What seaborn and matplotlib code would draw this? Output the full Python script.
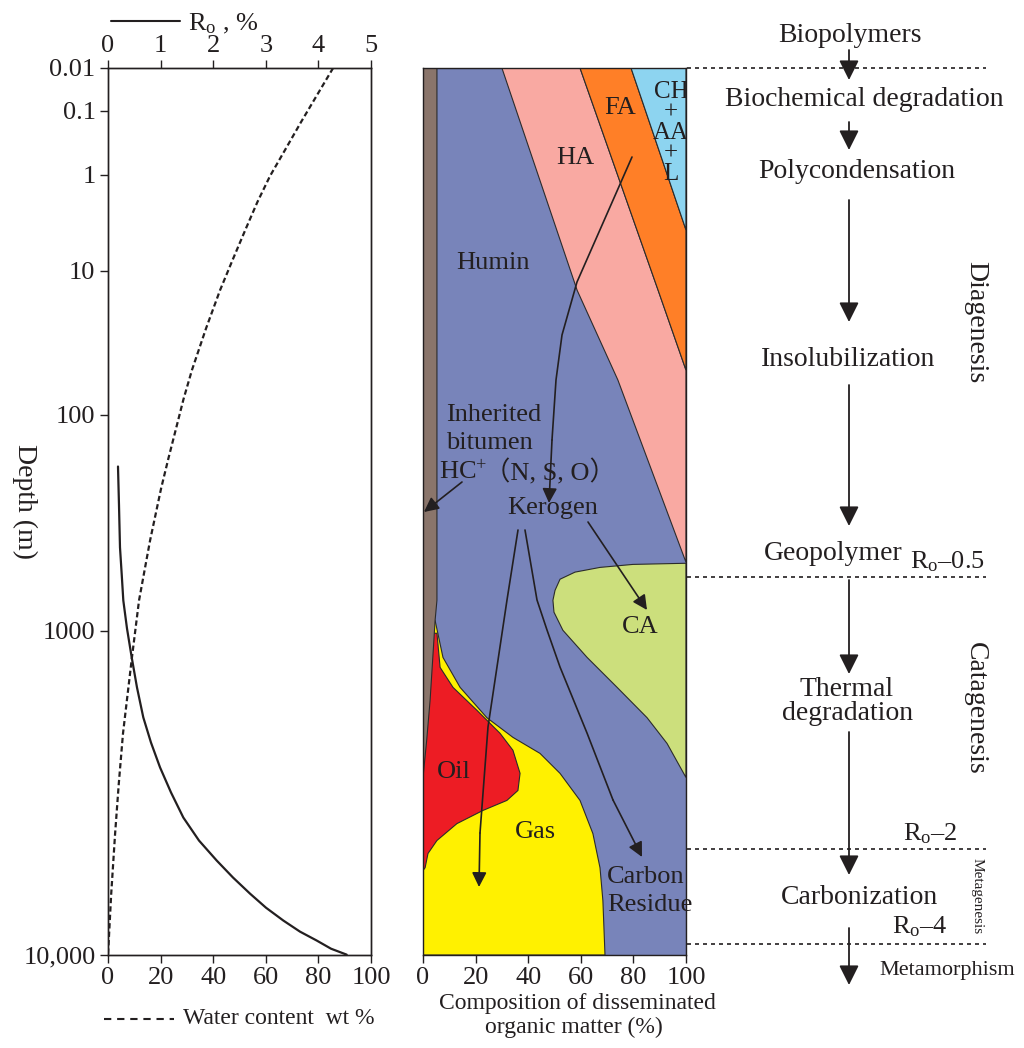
import numpy as np
import pandas as pd
import matplotlib
matplotlib.use("Agg")
import matplotlib.pyplot as plt
import seaborn as sns
from matplotlib.lines import Line2D
from matplotlib.patches import FancyArrowPatch
from matplotlib.ticker import NullLocator

# ---------------- data ----------------
depth_ticks = [0.01, 0.1, 1, 10, 100, 1000, 10000]
depth_tick_labels = ["0.01", "0.1", "1", "10", "100", "1000", "10,000"]
wt_ticks = [0, 20, 40, 60, 80, 100]
ro_ticks = [0, 1, 2, 3, 4, 5]
comp_ticks = [0, 20, 40, 60, 80, 100]

water_depth = [0.01, 0.0476, 0.162, 0.444, 1.04, 2.13, 4.03, 7.92, 14.5, 28.1, 53.9, 81.2,
               119, 172, 244, 426, 573, 761, 1257, 1715, 2305, 3325, 4690, 6950, 10000]
water_wt = [85.6, 79.5, 73.4, 67.5, 61.6, 56.8, 52.5, 47.5, 42.6, 37.3, 31.9, 28.7,
            25.9, 23.0, 20.2, 16.0, 13.9, 11.8, 9.1, 7.4, 5.7, 4.1, 2.7, 1.2, 0.0]

ro_depth = [190, 294, 457, 602, 761, 979, 1257, 1608, 2037, 2466, 2960, 3540, 4208, 4911,
            5598, 6240, 6906, 7535, 8147, 8710, 9183, 9638, 9980]
ro_value = [0.190, 0.209, 0.228, 0.262, 0.291, 0.361, 0.451, 0.551, 0.671, 0.817, 0.989,
            1.198, 1.432, 1.730, 2.067, 2.376, 2.700, 3.004, 3.333, 3.650, 3.967, 4.240, 4.538]

# composition regions: outlines as (percent, depth m)
bitumen_pct = [0, 5.3, 5.3, 4.6, 3.9, 2.7, 1.4, 0]
bitumen_depth = [0.01, 0.01, 760, 912, 1183, 1782, 2427, 3184]
gas_pct = [0, 4.6, 7.6, 14.1, 24.3, 34.2, 44.5, 52.1, 59.7, 64.6, 67.3, 68.4, 69.2, 0]
gas_depth = [912, 912, 1256, 1607, 2042, 2372, 2673, 3090, 3741, 4688, 5861, 7211, 10000, 10000]
oil_pct = [0, 5.3, 6.5, 11.4, 20.5, 29.3, 34.2, 36.9, 36.1, 31.9, 22.8, 12.9, 5.3, 1.9, 0.8, 0]
oil_depth = [1021, 1021, 1365, 1607, 1928, 2301, 2612, 3090, 3490, 3741, 4009, 4385, 4909, 5346, 5861, 5970]
ca_pct = [100, 79.8, 67.3, 57.8, 52.1, 50.2, 49.4, 49.8, 53.2, 62.4, 73.8, 85.2, 92.8, 100]
ca_depth = [535, 541, 557, 583, 624, 693, 760, 847, 995, 1256, 1607, 2042, 2483, 3184]
ha_pct = [30.0, 58.6, 74.1, 100, 100, 89.4, 59.7]
ha_depth = [0.01, 14.5, 62.1, 530, 53.8, 14.5, 0.01]
fa_pct = [59.7, 89.4, 100, 100, 79.1]
fa_depth = [0.01, 14.5, 53.8, 4.20, 0.01]
ch_pct = [79.1, 100, 100]
ch_depth = [0.01, 4.20, 0.01]
humin_pct = [0, 100, 100, 0]
humin_depth = [0.01, 0.01, 10000, 10000]

# ---------------- style ----------------
sns.set_theme(style="ticks")
ink = "#231f20"
plt.rcParams["font.family"] = ["Liberation Serif", "DejaVu Serif", "Noto Sans CJK SC"]
plt.rcParams["mathtext.fontset"] = "custom"
plt.rcParams["mathtext.rm"] = "Liberation Serif"
plt.rcParams["mathtext.it"] = "Liberation Serif:italic"
plt.rcParams["mathtext.bf"] = "Liberation Serif:bold"
plt.rcParams["axes.edgecolor"] = ink
plt.rcParams["axes.linewidth"] = 1.0
plt.rcParams["text.color"] = ink

R_BASE, A_SC = 1.5, 85.3


def fwd(d):
    d = np.clip(np.asarray(d, dtype=float), 1e-6, None)
    return A_SC * (R_BASE ** (np.log10(d) + 2) - 1)


def inv(p):
    p = np.asarray(p, dtype=float)
    return 10 ** (np.log(np.clip(1 + p / A_SC, 1e-9, None)) / np.log(R_BASE) - 2)


fig = plt.figure(figsize=(10.24, 10.48), dpi=100)


def fx(px):
    return px / 1024


def fy(py):
    return 1 - py / 1048


H = 887 / 1048
ax = fig.add_axes([fx(108), fy(955), (371 - 108) / 1024, H])
axm = fig.add_axes([fx(423), fy(955), (686 - 423) / 1024, H])

# ---------------- left panel ----------------
ax.set_yscale("function", functions=(fwd, inv))
sns.lineplot(x=water_wt, y=water_depth, sort=False, estimator=None, ax=ax,
             color=ink, lw=1.6, linestyle=(0, (2.4, 1.4)))
ax.set_xlim(0, 100)
ax.set_xticks(wt_ticks)
ax.set_yticks(depth_ticks)
ax.set_yticklabels(depth_tick_labels)
ax.yaxis.set_minor_locator(NullLocator())
ax.tick_params(axis="both", direction="out", length=6, width=1, labelsize=19,
               pad=3, colors=ink)
ax.set_xlabel("")
ax.set_ylabel("")

axt = ax.twiny()
sns.lineplot(x=ro_value, y=ro_depth, sort=False, estimator=None, ax=axt,
             color=ink, lw=1.6)
axt.set_xlim(0, 5)
axt.set_xticks(ro_ticks)
axt.tick_params(axis="x", direction="out", length=6, width=1, labelsize=19,
                pad=2, colors=ink)
axt.set_xlabel("")
axt.set_ylabel("")
ax.set_ylim(10000, 0.01)
for s in axt.spines.values():
    s.set_color(ink)

# ---------------- middle panel ----------------
axm.set_yscale("function", functions=(fwd, inv))
edge = "#2b2b2b"
regions = [
    (humin_pct, humin_depth, "#7884ba"),
    (gas_pct, gas_depth, "#fff100"),
    (oil_pct, oil_depth, "#ed1c24"),
    (bitumen_pct, bitumen_depth, "#8a756b"),
    (ca_pct, ca_depth, "#ccdf7c"),
    (ha_pct, ha_depth, "#f9a9a2"),
    (fa_pct, fa_depth, "#ff7f27"),
    (ch_pct, ch_depth, "#8dd4f0"),
]
for xs, ds, c in regions:
    axm.fill(xs, ds, facecolor=c, edgecolor=edge, linewidth=0.8)
axm.set_xlim(0, 100)
axm.set_ylim(10000, 0.01)
axm.set_xticks(comp_ticks)
axm.set_yticks([])
axm.yaxis.set_minor_locator(NullLocator())
axm.tick_params(axis="x", direction="out", length=6, width=1, labelsize=19,
                pad=3, colors=ink)
axm.tick_params(axis="y", left=False)
for s in axm.spines.values():
    s.set_color(ink)

# ---------------- helper drawing ----------------


def F(px, py):
    return (fx(px), fy(py))


def polyline(points, lw=1.2, **kw):
    xs = [fx(p[0]) for p in points]
    ys = [fy(p[1]) for p in points]
    fig.add_artist(Line2D(xs, ys, transform=fig.transFigure, color=ink, lw=lw, **kw))


def arrow(p0, p1, scale=22, lw=1.2):
    a = FancyArrowPatch(F(*p0), F(*p1), transform=fig.transFigure,
                        arrowstyle="-|>,head_length=0.4,head_width=0.2",
                        mutation_scale=scale, color=ink, lw=lw,
                        shrinkA=0, shrinkB=0)
    fig.add_artist(a)


def path_arrow(points, scale=22, lw=1.2):
    if len(points) > 2:
        polyline(points[:-1], lw=lw)
    arrow(points[-2], points[-1], scale=scale, lw=lw)


# middle arrows
path_arrow([(632, 157), (577, 282), (562, 335), (556, 380), (552, 440), (549, 503)])
path_arrow([(462, 482), (424, 512)])
path_arrow([(588, 522), (647, 610)])
path_arrow([(518, 530), (507, 600), (488, 727), (480, 833), (479, 887)])
path_arrow([(525, 530), (537, 600), (547, 630), (560, 667), (587, 733), (613, 800), (642, 857)])

# right arrows
for y0, y1 in [(50, 80), (122, 150), (200, 322), (385, 526), (580, 674), (732, 875), (928, 985)]:
    arrow((849, y0), (849, y1), scale=30, lw=1.3)

# dashed stage boundaries
for yy in [68, 577, 849, 944]:
    fig.add_artist(Line2D([fx(687), fx(986)], [fy(yy), fy(yy)], transform=fig.transFigure,
                          color=ink, lw=1.2, linestyle=(0, (2.4, 2.4))))

# legends
fig.add_artist(Line2D([fx(111), fx(180)], [fy(21), fy(21)], transform=fig.transFigure,
                      color=ink, lw=1.5))
fig.text(fx(188), fy(24), r"R$_\mathrm{o}$ , %", fontsize=19, ha="left", va="center")
fig.add_artist(Line2D([fx(104), fx(174)], [fy(1019), fy(1019)], transform=fig.transFigure,
                      color=ink, lw=1.5, linestyle=(0, (3.5, 2.8))))
fig.text(fx(183), fy(1018), "Water content  wt %", fontsize=17, ha="left", va="center")

fig.text(fx(25), fy(501), "Depth (m)", fontsize=20, rotation=-90, ha="center", va="center")
fig.text(fx(577), fy(1003), "Composition of disseminated", fontsize=17, ha="center", va="center")
fig.text(fx(574), fy(1027), "organic matter (%)", fontsize=17, ha="center", va="center")

# labels inside composition panel
axm.text(fx(671), fy(133), "CH\n+\nAA\n+\nL", transform=fig.transFigure, fontsize=18,
         ha="center", va="center", multialignment="center", linespacing=0.92, clip_on=True)
for s, x, y in [("FA", 620, 108), ("HA", 575, 158), ("Humin", 493, 263), ("Kerogen", 553, 508),
                ("CA", 640, 627), ("Oil", 454, 772), ("Gas", 535, 832)]:
    fig.text(fx(x), fy(y), s, fontsize=19, ha="center", va="center")
for s, x, y in [("Inherited", 446, 415), ("bitumen", 446, 443), (r"HC$^{+}$", 439, 472),
                ("（N, S, O）", 484, 472), ("Carbon", 607, 877), ("Residue", 607, 905)]:
    fig.text(fx(x), fy(y), s, fontsize=19, ha="left", va="center")

# right-hand process column
for s, x, y, fs in [("Biopolymers", 850, 35, 20), ("Biochemical degradation", 864, 100, 20),
                    ("Polycondensation", 857, 172, 20), ("Insolubilization", 848, 360, 20),
                    ("Geopolymer", 833, 553, 20), ("Thermal", 847, 690, 20),
                    ("degradation", 848, 713, 20), ("Carbonization", 859, 898, 20),
                    ("Metamorphism", 947, 970, 16)]:
    fig.text(fx(x), fy(y), s, fontsize=fs, ha="center", va="center")
for s, x, y in [(r"R$_\mathrm{o}$–0.5", 947, 562), (r"R$_\mathrm{o}$–2", 930, 834),
                (r"R$_\mathrm{o}$–4", 920, 927)]:
    fig.text(fx(x), fy(y), s, fontsize=19, ha="center", va="center")
fig.text(fx(976), fy(322), "Diagenesis", fontsize=20, rotation=-90, ha="center", va="center")
fig.text(fx(975), fy(708), "Catagenesis", fontsize=20, rotation=-90, ha="center", va="center")
fig.text(fx(977), fy(896), "Metagenesis", fontsize=11, rotation=-90, ha="center", va="center")

fig.savefig("out.png", dpi=100)
